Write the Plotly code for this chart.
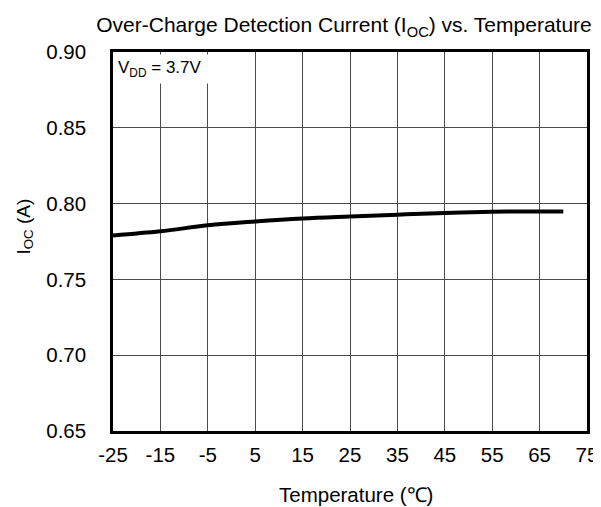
import plotly.graph_objects as go

temps = [-25, -15, -5, 5, 15, 25, 35, 45, 55, 60, 65, 70]
ioc = [0.779, 0.7817, 0.7857, 0.7882, 0.7902, 0.7915, 0.7927, 0.7938, 0.7946, 0.7948, 0.7948, 0.7948]

x_ticks = [-25, -15, -5, 5, 15, 25, 35, 45, 55, 65, 75]
y_ticks = [0.65, 0.70, 0.75, 0.80, 0.85, 0.90]

FONT = "Liberation Sans, Arial, sans-serif"

# the page body adds an 8px margin, so the figure is 8px smaller on each side
W, H = 593, 499

fig = go.Figure()
fig.add_trace(go.Scatter(x=temps, y=ioc, mode="lines",
                         line=dict(color="black", width=4, shape="spline"),
                         showlegend=False, hoverinfo="skip"))

fig.update_layout(
    width=W, height=H,
    margin=dict(l=105, r=14, t=44, b=76, autoexpand=False),
    paper_bgcolor="white", plot_bgcolor="white",
    font=dict(family=FONT, color="black", size=20),
    title=dict(text="Over-Charge Detection Current (I<sub>OC</sub>) vs. Temperature",
               xref="container", x=336 / W, xanchor="center",
               yref="container", y=1 - 17 / H, yanchor="middle",
               font=dict(size=21, family=FONT, color="black")),
)
fig.update_xaxes(range=[-25, 75], tickvals=x_ticks, ticktext=[str(v) for v in x_ticks],
                 showgrid=True, gridcolor="#4a4a4a", gridwidth=1,
                 showline=True, linecolor="black", linewidth=2.5, mirror=True,
                 ticks="", ticklabelstandoff=4, zeroline=False, automargin=False,
                 tickfont=dict(size=20.5, family=FONT))
fig.update_yaxes(range=[0.65, 0.90], tickvals=y_ticks, ticktext=[f"{v:.2f}" for v in y_ticks],
                 showgrid=True, gridcolor="#4a4a4a", gridwidth=1,
                 showline=True, linecolor="black", linewidth=2.5, mirror=True,
                 ticks="", ticklabelstandoff=20, zeroline=False, automargin=False,
                 tickfont=dict(size=20.5, family=FONT))

# axis titles
fig.add_annotation(xref="paper", yref="paper", x=0.5, y=0, yshift=-63, xshift=6,
                   xanchor="center", yanchor="middle", showarrow=False,
                   text="Temperature (℃)", font=dict(size=20.5, family=FONT, color="black"))
fig.add_annotation(xref="paper", yref="paper", x=0, y=0.5, xshift=-89, yshift=15,
                   xanchor="center", yanchor="middle", showarrow=False, textangle=-90,
                   text="I<sub>OC</sub> (A)", font=dict(size=19, family=FONT, color="black"))

# condition label
fig.add_annotation(xref="paper", yref="paper", x=0, y=1, xshift=2, yshift=-2,
                   xanchor="left", yanchor="top", align="left", valign="middle",
                   width=88, height=24,
                   text="V<sub>DD</sub> = 3.7V", showarrow=False, bgcolor="white",
                   font=dict(size=17, family=FONT, color="black"), borderpad=2)

fig.write_html("out.html")
